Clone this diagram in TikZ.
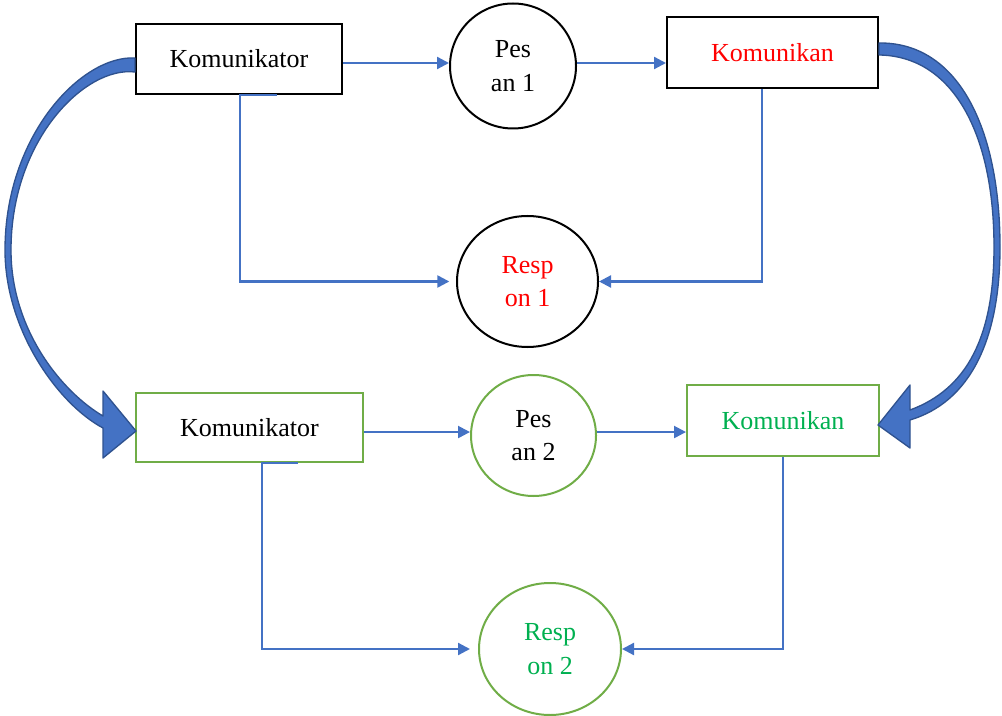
\documentclass[tikz,border=0pt]{standalone}
\usepackage{fontspec}
\setmainfont{Liberation Serif}
\usetikzlibrary{arrows.meta,shapes.geometric,calc}
\definecolor{linkblue}{HTML}{4472C4}
\definecolor{arrowedge}{HTML}{2F528F}
\definecolor{boxgreen}{HTML}{70AD47}
\definecolor{textgreen}{HTML}{00B050}
\definecolor{textred}{HTML}{FF0000}
\begin{document}
\begin{tikzpicture}[x=0.75pt,y=-0.75pt,
  every node/.style={font=\fontsize{19.5}{25}\selectfont, inner sep=0pt},
  box/.style={draw, line width=1.5pt, rectangle},
  bubble/.style={draw, line width=1.5pt, ellipse, align=center},
  conn/.style={draw=linkblue, line width=1.7pt, -{Triangle[length=9pt,width=9pt]}},
  bigarrow/.style={fill=linkblue, draw=arrowedge, line width=1pt, line join=round}]
\useasboundingbox (0,0) rectangle (1002,716);

% first round
\node[box, minimum width=154.5pt, minimum height=52.5pt] (k1) at (239,59) {Komunikator};
\node[bubble, minimum width=94.5pt, minimum height=93.75pt] (p1) at (513,66) {Pes\\an 1};
\node[box, minimum width=158.25pt, minimum height=53.25pt, text=textred] (n1) at (772.5,52.5) {Komunikan};
\node[bubble, minimum width=105.75pt, minimum height=98.25pt, text=textred] (r1) at (527.5,281.5) {Resp\\on 1};

% second round
\node[box, draw=boxgreen, minimum width=170.25pt, minimum height=51.75pt] (k2) at (249.5,427.5) {Komunikator};
\node[bubble, draw=boxgreen, minimum width=93.75pt, minimum height=90.75pt] (p2) at (533.5,435.5) {Pes\\an 2};
\node[box, draw=boxgreen, minimum width=144pt, minimum height=53.25pt, text=textgreen] (n2) at (783,420.5) {Komunikan};
\node[bubble, draw=boxgreen, minimum width=106.5pt, minimum height=99pt, text=textgreen] (r2) at (550,649) {Resp\\on 2};

% message flow
\draw[conn] ([yshift=-3pt]k1.east) -- ([yshift=-3pt]k1.east -| p1.west);
\draw[conn] ([yshift=2.25pt]p1.east) -- ([yshift=2.25pt]p1.east -| n1.west);
\draw[conn] ([yshift=-3.4pt]k2.east) -- ([yshift=-3.4pt]k2.east -| p2.west);
\draw[conn] ([yshift=2.6pt]p2.east) -- ([yshift=2.6pt]p2.east -| n2.west);

% response flow
\draw[conn, shorten >=5pt] ($(k1.south)+(38,0)$) -- ($(k1.south)+(1,0)$) |- (r1.west);
\draw[conn] ($(n1.south)+(-10.5,0)$) |- (r1.east);
\draw[conn, shorten >=6pt] ($(k2.south)+(48.5,0)$) -- ($(k2.south)+(12.5,0)$) |- (r2.west);
\draw[conn] (n2.south) |- (r2.east);

% curved feedback arrows
\filldraw[bigarrow] ($(k1.west)+(0,-1)$) .. controls (82,55) and (5,135) .. (5,250)
  .. controls (5,330) and (58,404) .. (103,428) -- (103,458) -- ($(k2.west)+(1,3.5)$)
  -- (103,391) -- (103,416) .. controls (62,392) and (11,330) .. (11,250)
  .. controls (11,140) and (85,66) .. ($(k1.west)+(0,13)$) -- cycle;
\filldraw[bigarrow] ($(n1.east)+(0,-9.5)$) .. controls (958,42) and (1000,128) .. (1000,247)
  .. controls (1000,340) and (970,402) .. (910,420) -- (910,448) -- ($(n2.east)+(-2,4.5)$)
  -- (910,385) -- (910,410) .. controls (967,389) and (994,337) .. (994,247)
  .. controls (994,132) and (952,56) .. ($(n1.east)+(0,2.5)$) -- cycle;
\end{tikzpicture}
\end{document}
